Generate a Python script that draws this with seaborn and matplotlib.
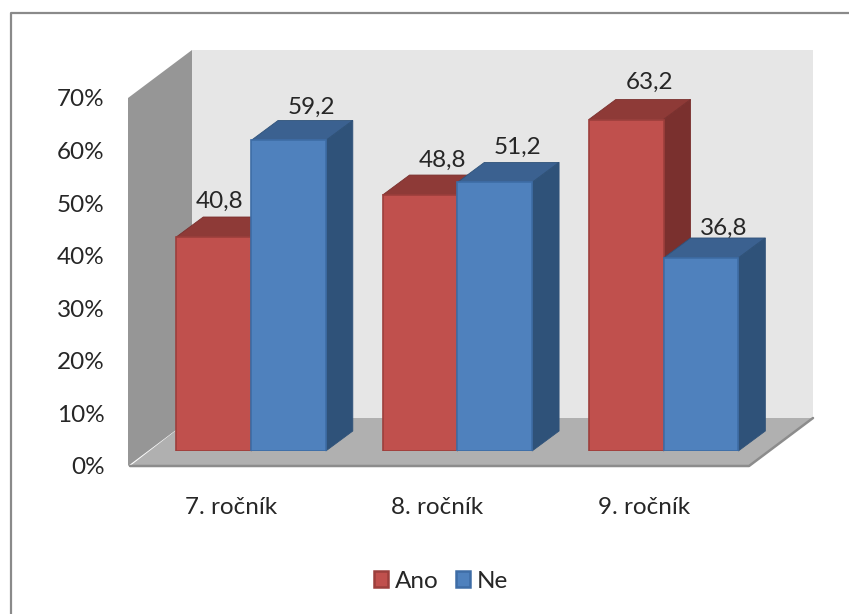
import numpy as np
import pandas as pd
import matplotlib
matplotlib.use("Agg")
import matplotlib.pyplot as plt
from matplotlib.patches import Polygon, Rectangle
from matplotlib.transforms import IdentityTransform
import seaborn as sns

# --- data ---
categories = ["7. ročník", "8. ročník", "9. ročník"]
series_names = ["Ano", "Ne"]
ano_values = [40.8, 48.8, 63.2]
ne_values = [59.2, 51.2, 36.8]
y_ticks = [0, 10, 20, 30, 40, 50, 60, 70]

# --- style ---
W, H = 849, 614
FS = 17.5
front_colors = {"Ano": "#C0504D", "Ne": "#4F81BD"}
edge_colors = {"Ano": "#9C3F3C", "Ne": "#3E6DA6"}
top_colors = {"Ano": "#8E3A37", "Ne": "#3B6190"}
side_colors = {"Ano": "#7A302E", "Ne": "#2F5279"}
text_color = "#262626"
wall_depth = (64, 48)
bar_depth = (27, 20)
# label offsets from the bar's top centre, in pixels (Ano/Ne per category)
label_dx = {("Ano", 0): 6}
label_dx_default = 23
label_dy = {("Ano", 0): 36, ("Ne", 0): 33, ("Ano", 1): 35, ("Ne", 1): 35,
            ("Ano", 2): 37, ("Ne", 2): 30}

sns.set_theme(style="white")
plt.rcParams["font.family"] = ["Lato", "DejaVu Sans"]
plt.rcParams["font.size"] = FS

df = pd.DataFrame({
    "category": categories * 2,
    "series": [series_names[0]] * 3 + [series_names[1]] * 3,
    "value": ano_values + ne_values,
})

fig = plt.figure(figsize=(W / 100, H / 100), dpi=100, facecolor="white")


def axes_px(left, top, right, bottom):
    return [left / W, 1 - bottom / H, (right - left) / W, (bottom - top) / H]


# Outer frame: only left and top edges lie in view
fig.add_artist(plt.Line2D([10.5 / W, 10.5 / W, 1], [0, 1 - 12.5 / H, 1 - 12.5 / H],
                          transform=fig.transFigure, color="#8A8A8A", lw=1.6))

# Front plane of the 3-D box: holds the axis scale and tick labels
ax_front = fig.add_axes(axes_px(128, 98, 747, 466), facecolor="none")
ax_front.set_xlim(-0.5, 2.5)
ax_front.set_ylim(0, 70)
ax_front.set_xticks(range(len(categories)), categories)
ax_front.set_yticks(y_ticks, [f"{t}%" for t in y_ticks])
ax_front.tick_params(axis="x", length=0, pad=22.5, labelsize=FS, labelcolor=text_color)
ax_front.tick_params(axis="y", length=0, pad=17, labelsize=FS, labelcolor=text_color)
sns.despine(ax=ax_front, left=True, bottom=True)

# Walls and floor derived from the front plane's corners and the box depth
x0, y0 = ax_front.transAxes.transform((0, 0))
x1, y1 = ax_front.transAxes.transform((1, 1))
dx, dy = wall_depth
identity = IdentityTransform()


def face(ax, pts, color, z, edge="none", lw=0.0):
    ax.add_patch(Polygon(pts, closed=True, facecolor=color, edgecolor=edge, lw=lw,
                         transform=identity, clip_on=False, zorder=z))


face(ax_front, [(x0 + dx, y0 + dy), (x1 + dx + 2, y0 + dy), (x1 + dx + 2, y1 + dy), (x0 + dx, y1 + dy)],
     "#E6E6E6", 1)
face(ax_front, [(x0, y0), (x0 + dx, y0 + dy), (x0 + dx, y1 + dy), (x0, y1)], "#969696", 2)
face(ax_front, [(x0 + 2, y0), (x1 + 2, y0), (x1 + dx + 2, y0 + dy), (x0 + dx, y0 + dy)], "#B0B0B0", 3)
ax_front.add_artist(plt.Line2D([x0 + 2, x1 + 2, x1 + dx + 2], [y0, y0, y0 + dy], color="#8C8C8C", lw=1.8,
                               transform=identity, clip_on=False, zorder=4))

# Bars: front faces come from seaborn on a plane set behind the front one
ax_bars = fig.add_axes(axes_px(147.9, 451 - 5.245 * 70, 766.7, 451), facecolor="none")
sns.barplot(data=df, x="category", y="value", hue="series", hue_order=series_names,
            order=categories, palette=front_colors, width=0.725, gap=0,
            saturation=1, legend=False, ax=ax_bars)
ax_bars.set_xlim(-0.5, 2.5)
ax_bars.set_ylim(0, 70)
ax_bars.axis("off")
fig.canvas.draw()

bx, by = bar_depth
for s_idx, (name, container) in enumerate(zip(series_names, ax_bars.containers)):
    for c_idx, bar in enumerate(container):
        z = 5 + 3 * c_idx + s_idx * 1.5
        bar.set_edgecolor(edge_colors[name])
        bar.set_linewidth(1.2)
        bar.set_zorder(z + 1)
        (l, b), (r, t) = ax_bars.transData.transform(
            [(bar.get_x(), 0), (bar.get_x() + bar.get_width(), bar.get_height())])
        face(ax_bars, [(l, t), (r, t), (r + bx, t + by), (l + bx, t + by)], top_colors[name], z,
             edge=side_colors[name], lw=0.6)
        face(ax_bars, [(r, b), (r + bx, b + by), (r + bx, t + by), (r, t)], side_colors[name], z + 0.5,
             edge=side_colors[name], lw=0.6)
        px_dx = label_dx.get((name, c_idx), label_dx_default)
        px_dy = label_dy[(name, c_idx)]
        ax_bars.text((l + r) / 2 + px_dx, t + px_dy, f"{bar.get_height():.1f}".replace(".", ","),
                     transform=identity, ha="center", va="center", fontsize=FS,
                     color=text_color, zorder=20)

# Legend
handles = [Rectangle((0, 0), 1, 1, facecolor=front_colors[n], edgecolor=edge_colors[n], lw=1.8)
           for n in series_names]
fig.legend(handles, series_names, loc="center", bbox_to_anchor=(441 / W, 1 - 581 / H), ncol=2,
           frameon=False, fontsize=FS, handlelength=0.58, handleheight=0.62, handletextpad=0.27,
           columnspacing=0.72, labelcolor=text_color, borderpad=0)

fig.savefig("out.png", dpi=100, facecolor="white")
